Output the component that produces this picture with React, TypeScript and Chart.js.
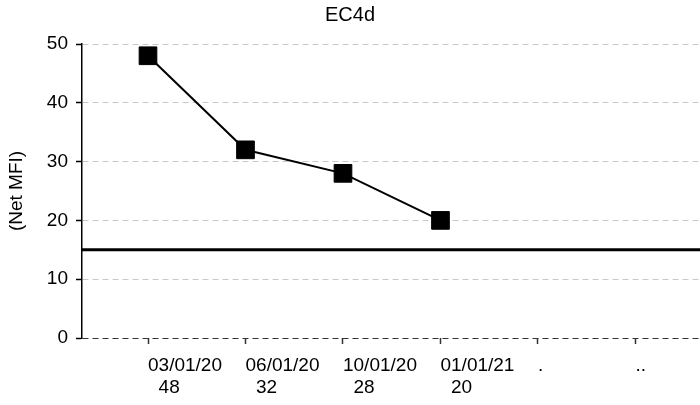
import React, { useEffect, useRef } from "react";
import { Chart, registerables } from "chart.js";

Chart.register(...registerables);

const titleText = "EC4d";
const yAxisTitle = "(Net MFI)";
const dates = ["03/01/20", "06/01/20", "10/01/20", "01/01/21"];
const values = [48, 32, 28, 20];
const extraTickLabels = [".", ".."];
const threshold = 15;
const yTicks = [0, 10, 20, 30, 40, 50];

const X_MIN = -0.677;
const X_MAX = 5.662;
const FONT = "'Liberation Sans', Arial, sans-serif";

export default function App() {
  const ref = useRef<HTMLCanvasElement | null>(null);

  useEffect(() => {
    if (!ref.current) return;
    const tickLabels: (string | string[])[] = [
      ...dates.map((d, i) => [d, "  " + values[i]]),
      ...extraTickLabels,
    ];
    const chart = new Chart(ref.current, {
      type: "line",
      data: {
        datasets: [
          {
            data: values.map((v, i) => ({ x: i, y: v })),
            borderColor: "#000",
            borderWidth: 2,
            pointStyle: "rect",
            pointRadius: 12.5,
            pointBorderWidth: 1,
            pointBackgroundColor: "#000",
            pointBorderColor: "#000",
            tension: 0,
          },
          {
            data: [
              { x: X_MIN, y: threshold },
              { x: X_MAX, y: threshold },
            ],
            borderColor: "#000",
            borderWidth: 3,
            pointRadius: 0,
            tension: 0,
          },
        ],
      },
      options: {
        responsive: false,
        animation: false,
        layout: { autoPadding: false, padding: { left: 0, right: 0, top: 0, bottom: 0 } },
        plugins: {
          legend: { display: false },
          tooltip: { enabled: false },
          title: {
            display: true,
            text: titleText,
            color: "#000",
            font: { family: FONT, size: 20, weight: "normal", lineHeight: 1.2 },
            padding: { top: 3, bottom: 17 },
          },
        },
        scales: {
          x: {
            type: "linear",
            min: X_MIN,
            max: X_MAX,
            afterBuildTicks: (scale: any) => {
              scale.ticks = tickLabels.map((_, i) => ({ value: i }));
            },
            afterFit: (scale: any) => {
              scale.height = 67;
              scale.paddingLeft = 0;
              scale.paddingRight = 0;
            },
            grid: {
              drawOnChartArea: false,
              drawTicks: true,
              tickLength: 6,
              tickColor: "#333",
              tickWidth: 1.5,
            },
            border: { display: false },
            ticks: {
              align: "start",
              maxRotation: 0,
              autoSkip: false,
              padding: 10,
              color: "#000",
              font: { family: FONT, size: 19, lineHeight: 1.2 },
              callback: (v: any) => tickLabels[Math.round(Number(v))] ?? "",
            },
          },
          y: {
            min: 0,
            max: 50,
            afterBuildTicks: (scale: any) => {
              scale.ticks = yTicks.map((v) => ({ value: v }));
            },
            afterFit: (scale: any) => {
              scale.width = 82;
            },
            grid: {
              color: (ctx: any) => (ctx.tick && ctx.tick.value === 0 ? "#333" : "#c8c8c8"),
              lineWidth: 1,
              drawTicks: true,
              tickLength: 6,
              tickColor: "#000",
              tickWidth: 1.5,
            },
            border: { display: true, color: "#000", width: 1.5, dash: [6, 4] },
            ticks: {
              padding: 8,
              color: "#000",
              font: { family: FONT, size: 19 },
            },
            title: {
              display: true,
              text: yAxisTitle,
              color: "#000",
              font: { family: FONT, size: 19, lineHeight: 1.2 },
              padding: { top: 5.6, bottom: 0 },
            },
          },
        },
      },
    } as any);
    return () => chart.destroy();
  }, []);

  return (
    <div style={{ position: "fixed", left: 0, top: 0, width: 700, height: 405, background: "#fff" }}>
      <canvas ref={ref} width={700} height={405} />
    </div>
  );
}
